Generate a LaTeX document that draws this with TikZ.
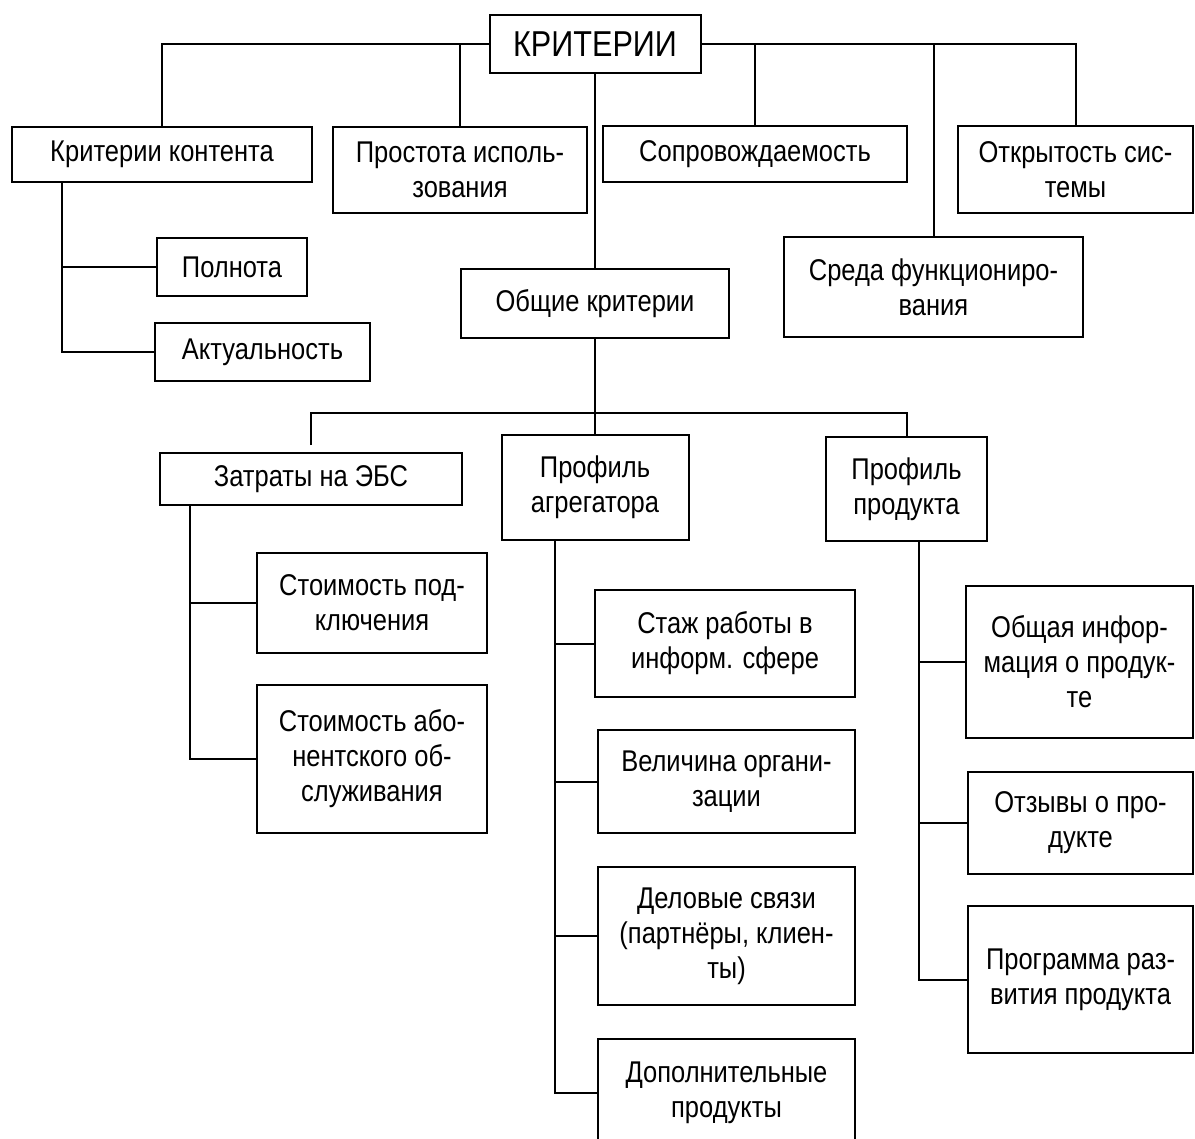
\documentclass[tikz,border=0pt]{standalone}
\usepackage{fontspec}
\setmainfont{Liberation Sans}[FakeStretch=0.85]
\usepackage{tikz}

\begin{document}
\begin{tikzpicture}[x=0.5pt, y=-0.5pt, line width=1pt, crit box/.style={rectangle,draw,align=center,inner sep=0pt}]%1 unit = 1px
\useasboundingbox (0,0) rectangle (1195,1139);
\begin{scope}[every node/.style={font=\fontsize{15}{17.5}\selectfont}]
\node[crit box,minimum width=105.5pt,minimum height=29pt,font=\fontsize{18}{20}\selectfont] (vKrit) at (595,44) {КРИТЕРИИ};
\node[crit box,minimum width=150pt,minimum height=27.5pt] (vKont) at (162,154.5) {Критерии контента};
\node[crit box,minimum width=127pt,minimum height=43pt] (vProst) at (460,170) {Простота исполь-\\зования};
\node[crit box,minimum width=152pt,minimum height=28pt] (vSopr) at (755,154) {Сопровождаемость};
\node[crit box,minimum width=117.5pt,minimum height=43.5pt] (vOtkr) at (1075.5,169.5) {Открытость сис-\\темы};
\node[crit box,minimum width=149.5pt,minimum height=50pt] (vSreda) at (933.5,287) {Среда функциониро-\\вания};
\node[crit box,minimum width=134pt,minimum height=34.5pt] (vObsh) at (595,303.5) {Общие критерии};
\node[crit box,minimum width=75pt,minimum height=29pt] (vPoln) at (232,267) {Полнота};
\node[crit box,minimum width=107.5pt,minimum height=29pt] (vAkt) at (262.5,352) {Актуальность};
\node[crit box,minimum width=151pt,minimum height=26pt] (vZatr) at (311,479) {Затраты на ЭБС};
\node[crit box,minimum width=93.5pt,minimum height=52.5pt] (vAgr) at (595,487.5) {Профиль\\агрегатора};
\node[crit box,minimum width=80.5pt,minimum height=52pt] (vProd) at (906.5,489) {Профиль\\продукта};
\node[crit box,minimum width=115pt,minimum height=50pt] (vPodkl) at (372,603) {Стоимость под-\\ключения};
\node[crit box,minimum width=115pt,minimum height=74pt] (vAbon) at (372,759) {Стоимость або-\\нентского об-\\служивания};
\node[crit box,minimum width=130pt,minimum height=53.5pt] (vStazh) at (725,643.5) {Стаж работы в\\информ. сфере};
\node[crit box,minimum width=128.5pt,minimum height=51.5pt] (vVelich) at (726.5,781.5) {Величина органи-\\зации};
\node[crit box,minimum width=128.5pt,minimum height=69pt] (vDelov) at (726.5,936) {Деловые связи\\(партнёры, клиен-\\ты)};
\node[crit box,minimum width=128.5pt,minimum height=54pt] (vDopoln) at (726.5,1093) {Дополнительные\\продукты};
\node[crit box,minimum width=113.5pt,minimum height=76pt] (vObInf) at (1079.5,662) {Общая инфор-\\мация о продук-\\те};
\node[crit box,minimum width=112.5pt,minimum height=51pt] (vOtzyv) at (1080.5,823) {Отзывы о про-\\дукте};
\node[crit box,minimum width=112.5pt,minimum height=73.5pt] (vProgr) at (1080.5,979.5) {Программа раз-\\вития продукта};
\end{scope}
\begin{scope}
\coordinate (tK) at (62,0);
\coordinate (tZ) at (190,0);
\coordinate (tA) at (555,0);
\coordinate (tP) at (919,0);
\coordinate (hB) at (0,413);
\draw (vKrit.west) -| (vKont.north);
\draw (vProst.north) |- (vKrit.west);
\draw (vKrit.east) -| (vOtkr.north);
\draw (vSopr.north) |- (vKrit.east);
\draw (vSreda.north) |- (vKrit.east);
\draw (vKrit.south) -- (vObsh.north);
\draw (vKont.south -| tK) |- (vAkt.west);
\draw (vPoln.west) -- (vPoln.west -| tK);
\draw (vObsh.south) -- (vAgr.north);
\draw[shorten <=3.5pt] (vZatr.north) |- (hB -| vProd.north) -- (vProd.north);
\draw (vZatr.south -| tZ) |- (vAbon.west);
\draw (vPodkl.west) -- (vPodkl.west -| tZ);
\draw (vAgr.south -| tA) |- (vDopoln.west);
\draw (vStazh.west) -- (vStazh.west -| tA);
\draw (vVelich.west) -- (vVelich.west -| tA);
\draw (vDelov.west) -- (vDelov.west -| tA);
\draw (vProd.south -| tP) |- (vProgr.west);
\draw (vObInf.west) -- (vObInf.west -| tP);
\draw (vOtzyv.west) -- (vOtzyv.west -| tP);
\end{scope}
\end{tikzpicture}
\end{document}
